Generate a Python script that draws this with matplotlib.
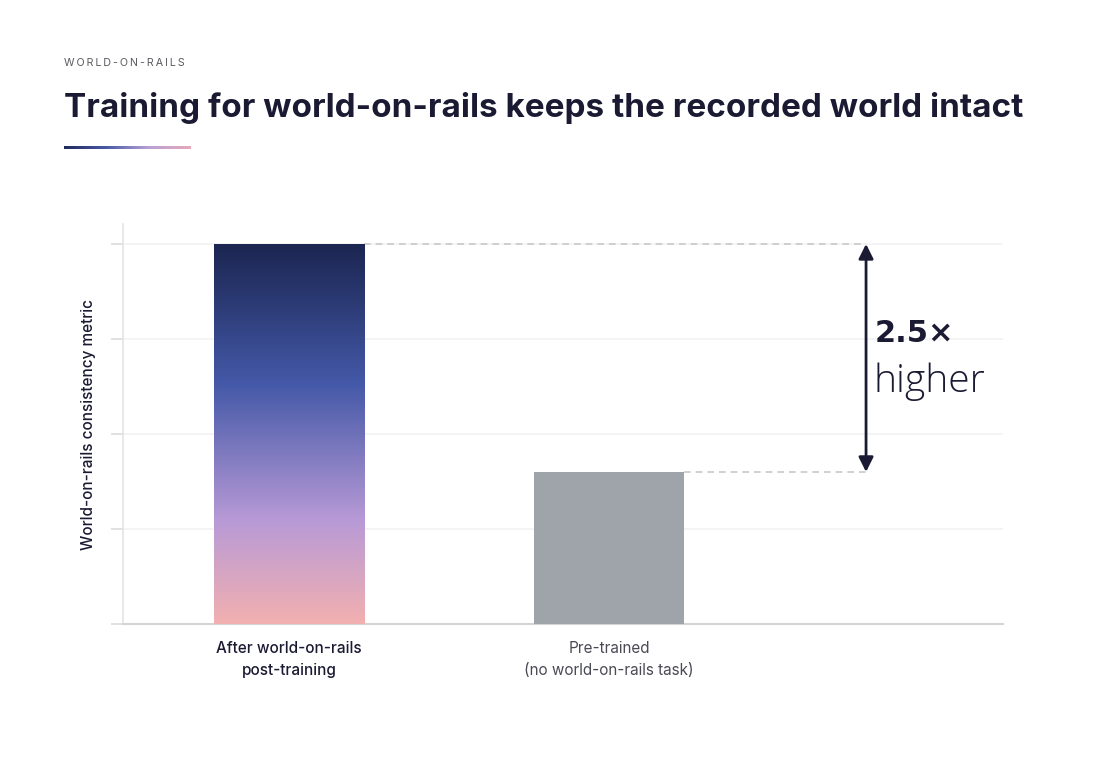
import matplotlib
matplotlib.use('Agg')
import matplotlib.pyplot as plt
import numpy as np
from matplotlib.colors import LinearSegmentedColormap

# data
categories = ['After world-on-rails\npost-training', 'Pre-trained\n(no world-on-rails task)']
values = [4.0, 1.6]
ratio_label = '2.5×'
ratio_word = 'higher'
yticks = [0, 1, 2, 3, 4]

title = 'Training for world-on-rails keeps the recorded world intact'
kicker = 'WORLD-ON-RAILS'
ylabel = 'World-on-rails consistency metric'

DARK = '#1b1a33'
grad = LinearSegmentedColormap.from_list(
    'wor', [(0.0, '#1b2550'), (0.37, '#4459a8'), (0.73, '#b89ad6'), (1.0, '#f2b0b0')])
line_grad = LinearSegmentedColormap.from_list(
    'ul', ['#1f2a5c', '#4a5aa8', '#b8a0d4', '#e6a9b8'])

plt.rcParams['font.family'] = ['Inter', 'DejaVu Sans']

fig = plt.figure(figsize=(11.2, 7.6), dpi=100)
ax = fig.add_axes([123/1120, 1-624/760, 880/1120, 400/760])

x = np.arange(len(values))
bars = ax.bar(x, values, width=0.47, color=['none', '#9fa3aa'], zorder=3)

# gradient fill for the first bar (dark at top)
b = bars[0]
bx0, bw, bh = b.get_x(), b.get_width(), b.get_height()
img = ax.imshow(np.linspace(0, 1, 256).reshape(-1, 1), cmap=grad, aspect='auto',
                extent=[bx0, bx0 + bw, 0, bh], origin='upper', zorder=3,
                interpolation='bilinear')
img.set_clip_path(b)

ax.set_xlim(-0.519, 2.231)
ax.set_ylim(0, 4.21)
ax.set_yticks(yticks)
ax.set_yticklabels([])
ax.tick_params(axis='y', length=9, color='#dcdcdc', width=1.2)
ax.tick_params(axis='x', length=0, pad=12)
ax.set_xticks(x)
ax.set_xticklabels(categories, fontsize=11, linespacing=1.6)
ticklabs = ax.get_xticklabels()
ticklabs[0].set_color(DARK)
ticklabs[0].set_fontweight('medium')
ticklabs[1].set_color('#4a4a55')

for yv in yticks[1:]:
    ax.axhline(yv, color='#f2f2f2', lw=1.2, zorder=1)

for s in ['top', 'right']:
    ax.spines[s].set_visible(False)
ax.spines['left'].set_color('#e4e4e4')
ax.spines['bottom'].set_color('#d4d4d4')
ax.spines['left'].set_linewidth(1.2)
ax.spines['bottom'].set_linewidth(1.5)

ax.set_ylabel(ylabel, fontsize=11, color=DARK, labelpad=7, fontweight='medium')

# comparison arrow and guides
xa = 1.803
ax.plot([bars[0].get_x() + bw, xa], [values[0], values[0]], ls=(0, (4, 3)), color='#c8c8cc', lw=1.2, zorder=2)
ax.plot([bars[1].get_x() + bw, xa], [values[1], values[1]], ls=(0, (4, 3)), color='#c8c8cc', lw=1.2, zorder=2)
ax.annotate('', xy=(xa, values[0]), xytext=(xa, values[1]),
            arrowprops=dict(arrowstyle='<|-|>', color=DARK, lw=2, mutation_scale=22,
                            shrinkA=0, shrinkB=0), zorder=4)
mid = (values[0] + values[1]) / 2
ax.text(xa + 0.027, mid + 0.26, ratio_label, fontsize=22, fontweight='bold', color=DARK,
        ha='left', va='center', family=['DejaVu Sans'])
ax.text(xa + 0.022, mid - 0.25, ratio_word, fontsize=28, fontweight='light', color=DARK,
        ha='left', va='center', family=['Open Sans', 'DejaVu Sans'])

# header
fig.text(64/1120, 1-63/760, '\u2009'.join(kicker), fontsize=7.7, color='#5a5a60',
         ha='left', va='center')
t = fig.text(64/1120, 1-117/760, title, fontsize=22, fontweight='bold', color=DARK,
             ha='left', va='baseline')
fig.canvas.draw()
w = t.get_window_extent().width
t.set_fontsize(22 * 956 / w)

ul = fig.add_axes([64/1120, 1-149/760, 127/1120, 3/760])
ul.imshow(np.linspace(0, 1, 256).reshape(1, -1), cmap=line_grad, aspect='auto')
ul.axis('off')

fig.savefig('out.png', dpi=100)
